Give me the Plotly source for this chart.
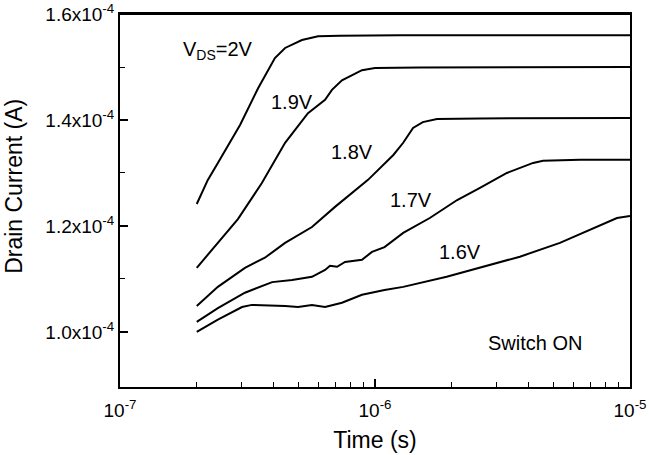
import math
import plotly.graph_objects as go

# Time (s) and drain current (A)
t_20 = [2.00e-7, 2.21e-7, 2.42e-7, 2.96e-7, 3.48e-7, 4.05e-7, 4.44e-7, 5.17e-7, 5.98e-7, 7.29e-7, 1.25e-6, 1.0e-5]
i_20 = [1.2415, 1.287, 1.319, 1.391, 1.460, 1.517, 1.536, 1.551, 1.558, 1.559, 1.560, 1.560]

t_19 = [2.00e-7, 2.42e-7, 2.90e-7, 3.60e-7, 4.44e-7, 5.46e-7, 6.37e-7, 6.78e-7, 7.42e-7, 8.89e-7, 1.00e-6, 1.50e-6, 1.0e-5]
i_19 = [1.121, 1.168, 1.213, 1.281, 1.357, 1.413, 1.438, 1.457, 1.475, 1.494, 1.498, 1.499, 1.500]

t_18 = [2.00e-7, 2.42e-7, 3.09e-7, 3.70e-7, 4.44e-7, 5.66e-7, 6.97e-7, 9.39e-7, 1.18e-6, 1.29e-6, 1.41e-6, 1.54e-6, 1.75e-6, 2.58e-6, 1.0e-5]
i_18 = [1.049, 1.085, 1.121, 1.140, 1.168, 1.198, 1.236, 1.287, 1.334, 1.357, 1.385, 1.396, 1.402, 1.403, 1.404]

t_17 = [2.00e-7, 2.42e-7, 3.09e-7, 3.95e-7, 4.73e-7, 5.66e-7, 6.37e-7, 6.66e-7, 7.10e-7, 7.63e-7, 8.89e-7, 9.73e-7,
        1.09e-6, 1.29e-6, 1.64e-6, 2.10e-6, 2.58e-6, 3.29e-6, 4.17e-6, 4.56e-6, 6.37e-6, 1.0e-5]
i_17 = [1.019, 1.045, 1.074, 1.094, 1.098, 1.104, 1.117, 1.125, 1.123, 1.132, 1.136, 1.151,
        1.160, 1.187, 1.215, 1.249, 1.272, 1.300, 1.319, 1.323, 1.325, 1.325]

t_16 = [2.00e-7, 2.42e-7, 3.01e-7, 3.29e-7, 4.44e-7, 4.99e-7, 5.66e-7, 6.37e-7, 7.42e-7, 8.89e-7, 1.09e-6, 1.29e-6,
        1.91e-6, 2.58e-6, 3.70e-6, 5.31e-6, 7.42e-6, 8.89e-6, 1.0e-5]
i_16 = [1.000, 1.023, 1.047, 1.051, 1.049, 1.047, 1.051, 1.047, 1.055, 1.070, 1.079, 1.085,
        1.104, 1.121, 1.142, 1.168, 1.198, 1.215, 1.219]

series = [(t_20, i_20), (t_19, i_19), (t_18, i_18), (t_17, i_17), (t_16, i_16)]

x_tickvals = [1e-7, 1e-6, 1e-5]
x_ticktext = ["10<sup>-7</sup>", "10<sup>-6</sup>", "10<sup>-5</sup>"]
x_minor = [k * 1e-7 for k in range(2, 10)] + [k * 1e-6 for k in range(2, 10)]
y_tickvals = [1.0e-4, 1.2e-4, 1.4e-4, 1.6e-4]
y_ticktext = ["1.0x10<sup>-4</sup>", "1.2x10<sup>-4</sup>", "1.4x10<sup>-4</sup>", "1.6x10<sup>-4</sup>"]
y_minor = [1.1e-4, 1.3e-4, 1.5e-4]

labels = ["V<sub>DS</sub>=2V", "1.9V", "1.8V", "1.7V", "1.6V", "Switch ON"]
label_t = [2.42e-7, 4.73e-7, 8.13e-7, 1.38e-6, 2.16e-6, 4.24e-6]
label_i = [1.532, 1.434, 1.340, 1.249, 1.151, 0.979]

x_title = "Time (s)"
y_title = "Drain Current (A)"

FONT = "Liberation Sans, Arial, Helvetica, sans-serif"

fig = go.Figure()
for t, i in series:
    fig.add_trace(go.Scatter(x=t, y=[v * 1e-4 for v in i], mode="lines",
                             line=dict(color="black", width=2), showlegend=False))

for txt, tx, iy in zip(labels, label_t, label_i):
    fig.add_annotation(x=math.log10(tx), y=iy * 1e-4, xref="x", yref="y", text=txt, showarrow=False,
                       font=dict(family=FONT, size=20, color="black"))

# y-axis title (placed slightly above the axis centre, as in the reference)
fig.add_annotation(x=-0.208, y=0.539, xref="paper", yref="paper", text=y_title, textangle=-90,
                   showarrow=False, xanchor="center", yanchor="middle",
                   font=dict(family=FONT, size=23, color="black"))

# frame top edge
fig.add_shape(type="line", xref="paper", yref="paper", x0=0, x1=1, y0=1, y1=1,
              line=dict(color="black", width=2), layer="above")

fig.update_layout(
    width=649, height=455,
    margin=dict(l=120, r=19, t=14, b=68),
    paper_bgcolor="white", plot_bgcolor="white",
    font=dict(family=FONT, size=19, color="black"),
    xaxis=dict(type="log", range=[-7, -5], tickmode="array", tickvals=x_tickvals, ticktext=x_ticktext,
               ticks="inside", ticklen=8, tickwidth=1.5, tickcolor="black", automargin=False,
               ticklabelstandoff=5,
               minor=dict(tickmode="array", tickvals=x_minor, ticks="inside", ticklen=5, tickwidth=1.2, tickcolor="black"),
               showline=True, linecolor="black", linewidth=2, mirror=True, showgrid=False, zeroline=False,
               title=dict(text=x_title, font=dict(size=23), standoff=12)),
    yaxis=dict(range=[0.896e-4, 1.6001e-4], tickmode="array", tickvals=y_tickvals, ticktext=y_ticktext,
               ticks="inside", ticklen=8, tickwidth=1.5, tickcolor="black", automargin=False,
               minor=dict(tickmode="array", tickvals=y_minor, ticks="inside", ticklen=5, tickwidth=1.2, tickcolor="black"),
               showline=True, linecolor="black", linewidth=2, mirror=True, showgrid=False, zeroline=False),
)

fig.write_html("out.html", config={"displayModeBar": False},
               post_script="document.body.style.margin='0';")
